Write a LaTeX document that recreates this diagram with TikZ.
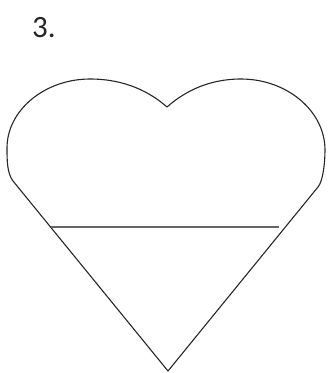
\documentclass[tikz,border=0pt]{standalone}
\usepackage{fontspec}
\setmainfont{Carlito}
\tikzset{
  outline/.style={draw=black!85, line width=1.1pt, line join=round},
  midline/.style={draw=black!60, line width=1.7pt},
  label/.style={inner sep=0pt, anchor=base west, font=\fontsize{31}{36}\selectfont, text=black!85}
}
\begin{document}
\begin{tikzpicture}[x=1pt,y=-1pt]
\useasboundingbox (0,0) rectangle (328,373);
\node[label] (num) at (32,37) {3.};
\coordinate (bottom) at (168,371);
\coordinate (lt) at (13,181);
\coordinate (lm) at (7,148);
\coordinate (ltop) at (90,79);
\coordinate (dip) at (167,107);
\coordinate (rtop) at (241,79);
\coordinate (rm) at (325,150);
\coordinate (rt) at (318,187);
\draw[outline] (bottom) -- (lt)
  .. controls (7,173) and (7,160) .. (lm)
  .. controls (7,110) and (45,79) .. (ltop)
  .. controls (125,79) and (150,92) .. (dip)
  .. controls (184,92) and (208,79) .. (rtop)
  .. controls (287,79) and (325,111) .. (rm)
  .. controls (325,163) and (323,181) .. (rt)
  -- cycle;
\coordinate (hl) at (51,227);
\coordinate (hr) at (279,227);
\draw[midline] (hl) -- (hr);
\end{tikzpicture}
\end{document}
